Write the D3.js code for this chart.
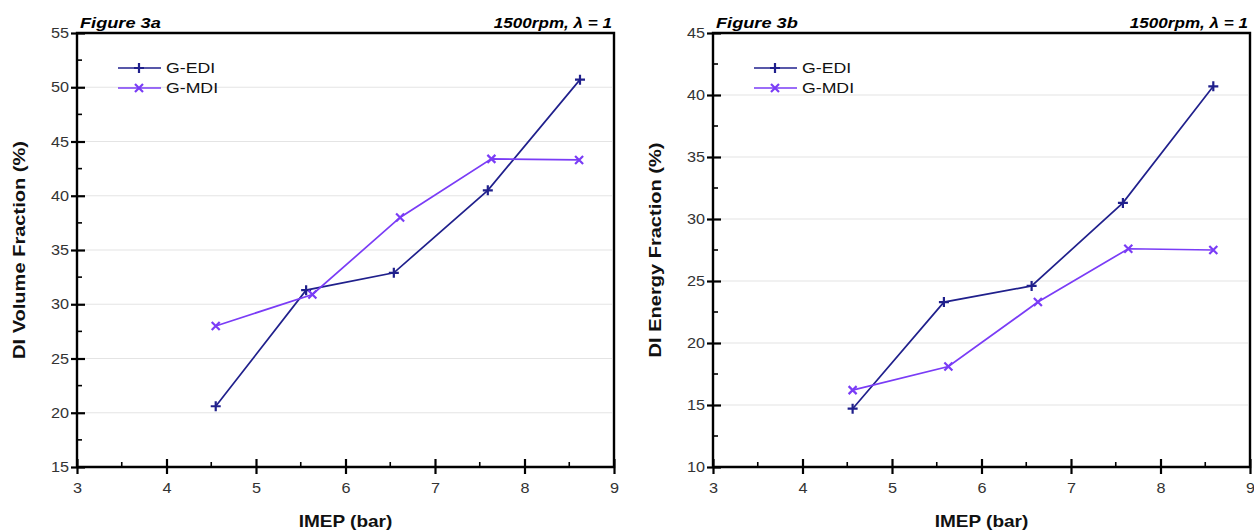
<!DOCTYPE html>
<html><head><meta charset="utf-8">
<script src="https://cdn.jsdelivr.net/npm/d3@7/dist/d3.min.js"></script>
<style>body{margin:0;background:#fff;} svg{display:block;font-family:"Liberation Sans",Arial,sans-serif;}</style>
</head><body>
<svg id="c" width="1254" height="531"></svg>
<script>
const seriesNames = ["G-EDI", "G-MDI"];
const xTicks = [3,4,5,6,7,8,9];
// Figure 3a
const aEdiX = [4.55, 5.56, 6.54, 7.59, 8.62];
const aEdiY = [20.6, 31.3, 32.9, 40.5, 50.7];
const aMdiX = [4.55, 5.63, 6.61, 7.63, 8.61];
const aMdiY = [28.0, 30.9, 38.0, 43.4, 43.3];
const aYTicks = [15,20,25,30,35,40,45,50,55];
// Figure 3b
const bEdiX = [4.56, 5.58, 6.56, 7.58, 8.59];
const bEdiY = [14.7, 23.3, 24.6, 31.3, 40.7];
const bMdiX = [4.56, 5.63, 6.63, 7.64, 8.59];
const bMdiY = [16.2, 18.1, 23.3, 27.6, 27.5];
const bYTicks = [10,15,20,25,30,35,40,45];

const colors = ["#20208c", "#7a3cf6"];
const svg = d3.select("#c");

// text with a horizontal stretch (reference text is wider than Liberation Sans)
function stext(g, x, y, sx, str, rot){
  const t = g.append("text")
    .attr("transform", `translate(${x},${y})` + (rot ? ` rotate(${rot})` : "") + ` scale(${sx},1)`)
    .text(str);
  return t;
}

function panel(opt){
  const g = svg.append("g");
  const x = d3.scaleLinear().domain([3,9]).range([opt.x0, opt.x1]);
  const y = d3.scaleLinear().domain([opt.yTicks[0], opt.yTicks[opt.yTicks.length-1]]).range([467, 33]);
  // grid
  g.selectAll(".grid").data(opt.yTicks.slice(1,-1)).enter().append("line")
    .attr("x1", opt.x0+2).attr("x2", opt.x1-2).attr("y1", d=>y(d)).attr("y2", d=>y(d))
    .attr("stroke", "#e4e4e4").attr("stroke-width", 1.2);
  // minor ticks
  const yMinor = d3.range(opt.yTicks[0]+2.5, opt.yTicks[opt.yTicks.length-1], 5);
  g.selectAll(".ym").data(yMinor).enter().append("line")
    .attr("x1", opt.x0).attr("x2", opt.x0+5).attr("y1", d=>y(d)).attr("y2", d=>y(d))
    .attr("stroke", "#000").attr("stroke-width", 1.6);
  const xMinor = d3.range(3.5, 9, 1);
  g.selectAll(".xm").data(xMinor).enter().append("line")
    .attr("x1", d=>x(d)).attr("x2", d=>x(d)).attr("y1", 467).attr("y2", 462)
    .attr("stroke", "#000").attr("stroke-width", 1.6);
  // axes
  const tsx = 1.12;
  const yAxis = d3.axisLeft(y).tickValues(opt.yTicks).tickFormat(d3.format("d")).tickSize(6).tickPadding(4);
  const ya = g.append("g").attr("transform", `translate(${opt.x0},0)`).call(yAxis);
  const xAxis = d3.axisBottom(x).tickValues(xTicks).tickFormat(d3.format("d")).tickSize(6).tickPadding(10);
  const xa = g.append("g").attr("transform", `translate(0,467)`).call(xAxis);
  [ya, xa].forEach(a=>{
    a.select(".domain").remove();
    a.selectAll("text").attr("font-size", 14.5).attr("fill", "#333").attr("font-family", "Liberation Sans, Arial, sans-serif")
      .attr("transform", `scale(${tsx},1)`);
    a.selectAll(".tick line").attr("stroke", "#000").attr("stroke-width", 2.2);
  });
  ya.selectAll(".tick line").attr("x1", 8).attr("x2", -6);
  ya.selectAll("text").attr("x", -8/tsx);
  xa.selectAll(".tick line").attr("y1", -8).attr("y2", 7);
  xa.selectAll("text").attr("y", 16).attr("dy", "0.71em");
  // frame
  g.append("path").attr("d", `M${opt.x0},467V33H${opt.x1}V467H${opt.x0}`)
    .attr("fill", "none").attr("stroke", "#000").attr("stroke-width", 2.4);
  // titles
  stext(g, opt.x0+3, 28, 1.3, opt.title).attr("font-size", 14).attr("font-weight", "bold").attr("font-style", "italic");
  stext(g, opt.x1-2, 28, 1.22, "1500rpm, λ = 1").attr("font-size", 14).attr("font-weight", "bold")
    .attr("font-style", "italic").attr("text-anchor", "end");
  stext(g, (opt.x0+opt.x1)/2, 527, 1.12, "IMEP (bar)").attr("font-size", 17).attr("font-weight", "bold")
    .attr("text-anchor", "middle").attr("fill", "#111");
  stext(g, opt.x0-52, 250, 1.18, opt.ylabel, -90).attr("font-size", 17)
    .attr("font-weight", "bold").attr("text-anchor", "middle").attr("fill", "#111");
  // series
  const line = d3.line().x(d=>x(d[0])).y(d=>y(d[1]));
  opt.series.forEach((s, i)=>{
    const pts = s.x.map((v,k)=>[v, s.y[k]]);
    g.append("path").datum(pts).attr("d", line).attr("fill", "none").attr("stroke", colors[i]).attr("stroke-width", 1.7);
    g.selectAll(".m"+i).data(pts).enter().append("path")
      .attr("transform", d=>`translate(${x(d[0])},${y(d[1])})`)
      .attr("d", i===0 ? "M-5,0H5M0,-5V5" : "M-4,-4L4,4M-4,4L4,-4")
      .attr("stroke", colors[i]).attr("stroke-width", 2.2).attr("fill", "none");
  });
  // legend
  seriesNames.forEach((n, i)=>{
    const ly = 68 + i*20;
    const lx = opt.x0 + 41;
    g.append("line").attr("x1", lx).attr("x2", lx+43).attr("y1", ly).attr("y2", ly).attr("stroke", colors[i]).attr("stroke-width", 1.7);
    g.append("path").attr("transform", `translate(${lx+21},${ly})`)
      .attr("d", i===0 ? "M-5,0H5M0,-5V5" : "M-4,-4L4,4M-4,4L4,-4")
      .attr("stroke", colors[i]).attr("stroke-width", 2.2).attr("fill", "none");
    stext(g, lx+48, ly+5, 1.18, n).attr("font-size", 15).attr("fill", "#111");
  });
}

panel({x0: 77, x1: 614, yTicks: aYTicks, title: "Figure 3a", ylabel: "DI Volume Fraction (%)",
  series: [{x: aEdiX, y: aEdiY}, {x: aMdiX, y: aMdiY}]});
panel({x0: 713, x1: 1250, yTicks: bYTicks, title: "Figure 3b", ylabel: "DI Energy Fraction (%)",
  series: [{x: bEdiX, y: bEdiY}, {x: bMdiX, y: bMdiY}]});
</script>
</body></html>
